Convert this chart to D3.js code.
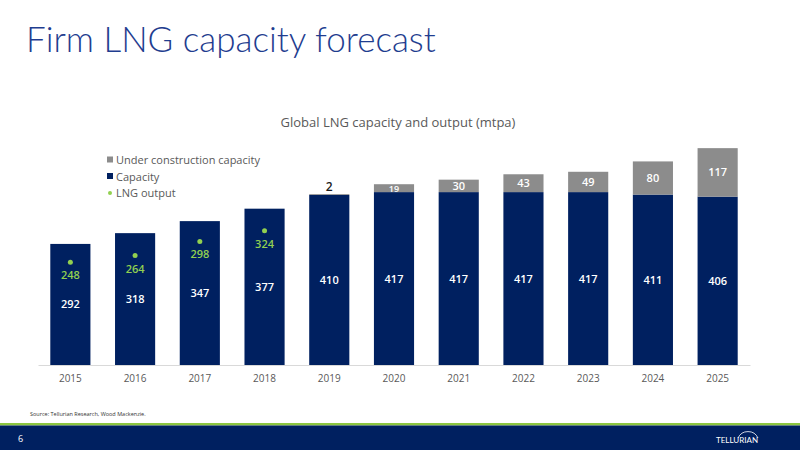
<!DOCTYPE html>
<html><head><meta charset="utf-8">
<script src="https://cdn.jsdelivr.net/npm/d3@7"></script>
<style>body{margin:0;background:#fff}svg{display:block;font-family:"Open Sans",sans-serif}</style>
</head><body><svg id="c" width="800" height="450"></svg>
<script>
const years = ["2015","2016","2017","2018","2019","2020","2021","2022","2023","2024","2025"]
const capacity = [292,318,347,377,410,417,417,417,417,411,406]
const underConstruction = [0,0,0,0,2,19,30,43,49,80,117]
const lngOutput = [248,264,298,324,null,null,null,null,null,null,null]

const svg = d3.select('#c')
const navy = '#002060', grey = '#8c8c8c', green = '#92d050'

svg.append('text').attr('x', 26).attr('y', 52).attr('font-size', 35).attr('fill', '#1f3d8f')
  .attr('font-family', 'Lato, sans-serif').attr('font-weight', 300).text('Firm LNG capacity forecast')
svg.append('text').attr('x', 398).attr('y', 127).attr('text-anchor', 'middle').attr('font-size', 13)
  .attr('fill', '#595959').text('Global LNG capacity and output (mtpa)')

const x = d3.scaleBand().domain(years).range([38, 750]).paddingInner(0.38).paddingOuter(0.19)
const y = d3.scaleLinear().domain([0, 410]).range([365, 195])

const g = svg.append('g')
years.forEach((yr, i) => {
  const bx = x(yr), bw = x.bandwidth(), cx = bx + bw / 2
  g.append('rect').attr('x', bx).attr('width', bw).attr('y', y(capacity[i]))
    .attr('height', y(0) - y(capacity[i])).attr('fill', navy)
  g.append('text').attr('x', cx).attr('y', (y(0) + y(capacity[i])) / 2 + 4).attr('text-anchor', 'middle')
    .attr('fill', '#fff').attr('font-size', 11).attr('font-weight', 600).text(capacity[i])
  const u = underConstruction[i]
  if (u > 0) {
    const top = y(capacity[i] + u), bot = y(capacity[i])
    g.append('rect').attr('x', bx).attr('width', bw).attr('y', top).attr('height', bot - top).attr('fill', grey)
    if (bot - top < 5) {
      g.append('text').attr('x', cx).attr('y', top - 3).attr('text-anchor', 'middle')
        .attr('fill', '#1a1a1a').attr('font-size', 12).attr('font-weight', 600).text(u)
    } else {
      g.append('text').attr('x', cx).attr('y', (top + bot) / 2 + 4).attr('text-anchor', 'middle')
        .attr('fill', '#fff').attr('font-size', bot - top < 10 ? 9 : 11).attr('font-weight', 600).text(u)
    }
  }
  if (lngOutput[i] != null) {
    g.append('circle').attr('cx', cx).attr('cy', y(lngOutput[i])).attr('r', 2.5).attr('fill', green)
    g.append('text').attr('x', cx).attr('y', y(lngOutput[i]) + 17).attr('text-anchor', 'middle')
      .attr('fill', green).attr('font-size', 11).attr('font-weight', 600).text(lngOutput[i])
  }
})

const ax = svg.append('g').attr('transform', 'translate(0,365)')
  .call(d3.axisBottom(x).tickSize(0).tickPadding(10))
ax.select('.domain').attr('stroke', '#d9d9d9')
ax.selectAll('text').attr('font-size', 10).attr('fill', '#595959').attr('font-family', '"Open Sans",sans-serif')

const legend = [['Under construction capacity', grey, 'rect'], ['Capacity', navy, 'rect'], ['LNG output', green, 'dot']]
legend.forEach((l, i) => {
  const ly = 160 + i * 16.5
  if (l[2] === 'rect') svg.append('rect').attr('x', 107).attr('y', ly - 3.5).attr('width', 6).attr('height', 6).attr('fill', l[1])
  else svg.append('circle').attr('cx', 110).attr('cy', ly).attr('r', 2).attr('fill', l[1])
  svg.append('text').attr('x', 116).attr('y', ly + 4).attr('font-size', 11).attr('fill', '#595959').text(l[0])
})

svg.append('text').attr('x', 30).attr('y', 416).attr('font-size', 5.5).attr('fill', '#333')
  .text('Source:   Tellurian Research, Wood Mackenzie.')
svg.append('rect').attr('x', 0).attr('y', 423).attr('width', 800).attr('height', 2.5).attr('fill', '#8cc63f')
svg.append('rect').attr('x', 0).attr('y', 425.5).attr('width', 800).attr('height', 25).attr('fill', '#002060')
svg.append('text').attr('x', 18).attr('y', 442).attr('font-size', 9).attr('fill', '#fff').text('6')
svg.append('text').attr('x', 758).attr('y', 443).attr('text-anchor', 'end').attr('font-size', 8)
  .attr('fill', '#fff').attr('font-family', 'Lato, sans-serif').text('TELLURIAN')
svg.append('path').attr('d', 'M738,438 A11,11 0 0 1 758,438').attr('fill', 'none').attr('stroke', '#fff').attr('stroke-width', 0.8)
</script></body></html>
